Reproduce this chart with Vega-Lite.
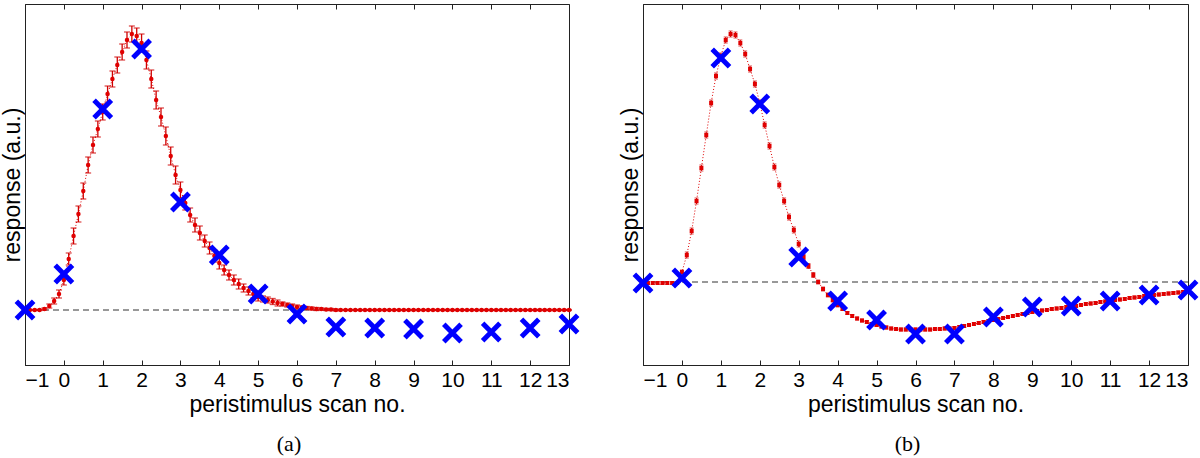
{
"$schema": "https://vega.github.io/schema/vega-lite/v6.json",
"padding": {"left": 0, "top": 3, "right": 2, "bottom": 0},
"background": "white",
"spacing": 29,
"config": {
  "view": {"stroke": "#222", "strokeWidth": 1},
  "axis": {"labelFont": "Liberation Sans", "titleFont": "Liberation Sans", "labelFontSize": 21, "titleFontSize": 23, "titleFontWeight": "normal", "labelColor": "#000", "titleColor": "#000", "domainColor": "#222", "tickColor": "#222", "grid": false, "labelOverlap": false}
},
"datasets": {
  "a": [{"x":-1,"v":55,"e":0.5},{"x":-0.875,"v":55,"e":0.5},{"x":-0.75,"v":55,"e":0.5},{"x":-0.625,"v":55,"e":0.5},{"x":-0.5,"v":56,"e":1},{"x":-0.375,"v":59,"e":2},{"x":-0.25,"v":64,"e":3},{"x":-0.125,"v":71,"e":4},{"x":0,"v":85,"e":5},{"x":0.125,"v":106,"e":6},{"x":0.25,"v":129,"e":8},{"x":0.375,"v":151,"e":8},{"x":0.5,"v":174,"e":8},{"x":0.625,"v":200,"e":8},{"x":0.75,"v":220,"e":8},{"x":0.875,"v":236,"e":8},{"x":1,"v":253,"e":8},{"x":1.125,"v":271,"e":8},{"x":1.25,"v":286,"e":8},{"x":1.375,"v":300,"e":8},{"x":1.5,"v":313,"e":8},{"x":1.625,"v":325,"e":8},{"x":1.75,"v":331,"e":8},{"x":1.875,"v":329,"e":8},{"x":2,"v":322,"e":9},{"x":2.125,"v":305,"e":9},{"x":2.25,"v":286,"e":9},{"x":2.375,"v":265,"e":9},{"x":2.5,"v":248,"e":9},{"x":2.625,"v":229,"e":9},{"x":2.75,"v":209,"e":9},{"x":2.875,"v":190,"e":9},{"x":3,"v":175,"e":8},{"x":3.125,"v":162,"e":7},{"x":3.25,"v":150,"e":7},{"x":3.375,"v":140,"e":7},{"x":3.5,"v":132,"e":7},{"x":3.625,"v":124,"e":6},{"x":3.75,"v":117,"e":6},{"x":3.875,"v":109,"e":6},{"x":4,"v":102,"e":6},{"x":4.125,"v":95,"e":5},{"x":4.25,"v":90,"e":5},{"x":4.375,"v":85,"e":5},{"x":4.5,"v":81,"e":5},{"x":4.625,"v":77,"e":4},{"x":4.75,"v":74,"e":4},{"x":4.875,"v":71,"e":4},{"x":5,"v":68,"e":4},{"x":5.125,"v":66,"e":3},{"x":5.25,"v":65,"e":3},{"x":5.375,"v":63.5,"e":3},{"x":5.5,"v":62,"e":3},{"x":5.625,"v":61,"e":2},{"x":5.75,"v":60,"e":2},{"x":5.875,"v":59,"e":2},{"x":6,"v":58,"e":2},{"x":6.125,"v":57.5,"e":1.5},{"x":6.25,"v":57,"e":1.5},{"x":6.375,"v":56.5,"e":1.5},{"x":6.5,"v":56,"e":1.5},{"x":6.625,"v":56,"e":1},{"x":6.75,"v":55.5,"e":1},{"x":6.875,"v":55.5,"e":1},{"x":7,"v":55,"e":1},
    {"x":7.125,"v":55,"e":0.5},{"x":7.25,"v":55,"e":0.5},{"x":7.375,"v":55,"e":0.5},{"x":7.5,"v":55,"e":0.5},{"x":7.625,"v":55,"e":0.5},{"x":7.75,"v":55,"e":0.5},{"x":7.875,"v":55,"e":0.5},{"x":8,"v":55,"e":0.5},
    {"x":8.125,"v":55,"e":0.5},{"x":8.25,"v":55,"e":0.5},{"x":8.375,"v":55,"e":0.5},{"x":8.5,"v":55,"e":0.5},{"x":8.625,"v":55,"e":0.5},{"x":8.75,"v":55,"e":0.5},{"x":8.875,"v":55,"e":0.5},{"x":9,"v":55,"e":0.5},
    {"x":9.125,"v":55,"e":0.5},{"x":9.25,"v":55,"e":0.5},{"x":9.375,"v":55,"e":0.5},{"x":9.5,"v":55,"e":0.5},{"x":9.625,"v":55,"e":0.5},{"x":9.75,"v":55,"e":0.5},{"x":9.875,"v":55,"e":0.5},{"x":10,"v":55,"e":0.5},
    {"x":10.125,"v":55,"e":0.5},{"x":10.25,"v":55,"e":0.5},{"x":10.375,"v":55,"e":0.5},{"x":10.5,"v":55,"e":0.5},{"x":10.625,"v":55,"e":0.5},{"x":10.75,"v":55,"e":0.5},{"x":10.875,"v":55,"e":0.5},{"x":11,"v":55,"e":0.5},
    {"x":11.125,"v":55,"e":0.5},{"x":11.25,"v":55,"e":0.5},{"x":11.375,"v":55,"e":0.5},{"x":11.5,"v":55,"e":0.5},{"x":11.625,"v":55,"e":0.5},{"x":11.75,"v":55,"e":0.5},{"x":11.875,"v":55,"e":0.5},{"x":12,"v":55,"e":0.5},
    {"x":12.125,"v":55,"e":0.5},{"x":12.25,"v":55,"e":0.5},{"x":12.375,"v":55,"e":0.5},{"x":12.5,"v":55,"e":0.5},{"x":12.625,"v":55,"e":0.5},{"x":12.75,"v":55,"e":0.5},{"x":12.875,"v":55,"e":0.5},{"x":13,"v":55,"e":0.5}],
  "xa": [{"x":-1,"v":55},{"x":0,"v":91},{"x":1,"v":256},{"x":2,"v":316},{"x":3,"v":163},{"x":4,"v":110},{"x":5,"v":71},{"x":6,"v":51},{"x":7,"v":38},{"x":8,"v":37},{"x":9,"v":36},{"x":10,"v":32},{"x":11,"v":33},{"x":12,"v":37},{"x":13,"v":41}],
  "ba": [{"v":55}],
  "b": [{"x":-1,"v":82,"e":1.5},{"x":-0.875,"v":82,"e":1.5},{"x":-0.75,"v":82,"e":1.5},{"x":-0.625,"v":82,"e":1.5},{"x":-0.5,"v":82,"e":1.5},{"x":-0.375,"v":82,"e":1.5},{"x":-0.25,"v":82,"e":1.5},{"x":-0.125,"v":82,"e":1.5},
    {"x":0,"v":93,"e":2},{"x":0.125,"v":110,"e":3},{"x":0.25,"v":134,"e":3},{"x":0.375,"v":164,"e":3},{"x":0.5,"v":197,"e":3},{"x":0.625,"v":230,"e":3},{"x":0.75,"v":262,"e":3},{"x":0.875,"v":289,"e":3},{"x":1,"v":309,"e":3},{"x":1.125,"v":325,"e":3},{"x":1.25,"v":331,"e":3},{"x":1.375,"v":330,"e":3},{"x":1.5,"v":322,"e":3},{"x":1.625,"v":311,"e":3},{"x":1.75,"v":296,"e":3},{"x":1.875,"v":281,"e":3},{"x":2,"v":262,"e":3},{"x":2.125,"v":240,"e":3},{"x":2.25,"v":219,"e":3},{"x":2.375,"v":198,"e":3},{"x":2.5,"v":180,"e":3},{"x":2.625,"v":164,"e":3},{"x":2.75,"v":148,"e":3},{"x":2.875,"v":135,"e":3},{"x":3,"v":121,"e":3},{"x":3.125,"v":108,"e":2.5},{"x":3.25,"v":99,"e":2.5},{"x":3.375,"v":90,"e":2.5},{"x":3.5,"v":83,"e":2},{"x":3.625,"v":76,"e":2},{"x":3.75,"v":70,"e":2},{"x":3.875,"v":65,"e":2},{"x":4,"v":60,"e":2},
    {"x":4.125,"v":56,"e":1.5},{"x":4.25,"v":52,"e":1.5},{"x":4.375,"v":49,"e":1.5},{"x":4.5,"v":46.5,"e":1.5},{"x":4.625,"v":44.5,"e":1.5},{"x":4.75,"v":43,"e":1.5},{"x":4.875,"v":41,"e":1.5},{"x":5,"v":40,"e":1.5},
    {"x":5.125,"v":38.5,"e":1.5},{"x":5.25,"v":37.5,"e":1.5},{"x":5.375,"v":36.5,"e":1.5},{"x":5.5,"v":36,"e":1.5},{"x":5.625,"v":35.5,"e":1.5},{"x":5.75,"v":35.5,"e":1.5},{"x":5.875,"v":35.5,"e":1.5},{"x":6,"v":35.5,"e":1.5},
    {"x":6.125,"v":35.5,"e":1.5},{"x":6.25,"v":35.5,"e":1.5},{"x":6.375,"v":35.5,"e":1.5},{"x":6.5,"v":36,"e":1.5},{"x":6.625,"v":36,"e":1.5},{"x":6.75,"v":36.5,"e":1.5},{"x":6.875,"v":36.5,"e":1.5},{"x":7,"v":37,"e":1.5},
    {"x":7.125,"v":38,"e":1.5},{"x":7.25,"v":39,"e":1.5},{"x":7.375,"v":40,"e":1.5},{"x":7.5,"v":41,"e":1.5},{"x":7.625,"v":42,"e":1.5},{"x":7.75,"v":43,"e":1.5},{"x":7.875,"v":44,"e":1.5},{"x":8,"v":45,"e":1.5},
    {"x":8.125,"v":46,"e":1.5},{"x":8.25,"v":47,"e":1.5},{"x":8.375,"v":48,"e":1.5},{"x":8.5,"v":49,"e":1.5},{"x":8.625,"v":50,"e":1.5},{"x":8.75,"v":51,"e":1.5},{"x":8.875,"v":52,"e":1.5},{"x":9,"v":53,"e":1.5},
    {"x":9.125,"v":54,"e":1.5},{"x":9.25,"v":54.5,"e":1.5},{"x":9.375,"v":55,"e":1.5},{"x":9.5,"v":56,"e":1.5},{"x":9.625,"v":56.5,"e":1.5},{"x":9.75,"v":57,"e":1.5},{"x":9.875,"v":58,"e":1.5},{"x":10,"v":58.5,"e":1.5},
    {"x":10.125,"v":59,"e":1.5},{"x":10.25,"v":60,"e":1.5},{"x":10.375,"v":61,"e":1.5},{"x":10.5,"v":61.5,"e":1.5},{"x":10.625,"v":62,"e":1.5},{"x":10.75,"v":63,"e":1.5},{"x":10.875,"v":63.5,"e":1.5},{"x":11,"v":64,"e":1.5},
    {"x":11.125,"v":65,"e":1.5},{"x":11.25,"v":65.5,"e":1.5},{"x":11.375,"v":66,"e":1.5},{"x":11.5,"v":67,"e":1.5},{"x":11.625,"v":67.5,"e":1.5},{"x":11.75,"v":68,"e":1.5},{"x":11.875,"v":69,"e":1.5},{"x":12,"v":69.5,"e":1.5},
    {"x":12.125,"v":70,"e":1.5},{"x":12.25,"v":70.5,"e":1.5},{"x":12.375,"v":71,"e":1.5},{"x":12.5,"v":71.5,"e":1.5},{"x":12.625,"v":72,"e":1.5},{"x":12.75,"v":72.5,"e":1.5},{"x":12.875,"v":73,"e":1.5},{"x":13,"v":73.5,"e":1.5}],
  "xb": [{"x":-1,"v":82},{"x":0,"v":87},{"x":1,"v":307},{"x":2,"v":261},{"x":3,"v":108},{"x":4,"v":64},{"x":5,"v":45},{"x":6,"v":31},{"x":7,"v":31},{"x":8,"v":48},{"x":9,"v":58},{"x":10,"v":59},{"x":11,"v":64},{"x":12,"v":70},{"x":13,"v":75}],
  "bb": [{"v":83}]
},
"hconcat": [
 {
  "width": 544, "height": 361,
  "title": {"text": "(a)", "orient": "bottom", "font": "Liberation Serif", "fontSize": 22, "fontWeight": "normal", "color": "#000", "offset": 18, "dx": -8},
  "resolve": {"scale": {"x": "independent"}},
  "layer": [
   {"layer": [
     {"data": {"name": "ba"}, "mark": {"type": "rule", "color": "#333", "strokeDash": [6, 4], "strokeWidth": 1},
      "encoding": {"y": {"field": "v", "type": "quantitative", "scale": {"domain": [0, 361], "nice": false, "zero": false}, "axis": {"labels": false, "ticks": false, "title": "response (a.u.)", "titlePadding": 1}}}},
     {"data": {"name": "a"}, "mark": {"type": "line", "color": "#e00000", "strokeDash": [1, 2], "strokeWidth": 1},
      "encoding": {"x": {"field": "x", "type": "quantitative", "scale": {"domain": [-1, 13], "nice": false, "zero": false}, "axis": {"values": [-1,0,1,2,3,4,5,6,7,8,9,10,11,12,13], "title": "peristimulus scan no.", "tickSize": -5, "labelPadding": 9, "titlePadding": 3, "labelOverlap": false, "labelBound": false}},
                   "y": {"field": "v", "type": "quantitative", "scale": {"domain": [0, 361], "nice": false, "zero": false}, "axis": {"labels": false, "ticks": false, "title": "response (a.u.)", "titlePadding": 1}}}},
     {"data": {"name": "a"}, "mark": {"type": "errorbar", "ticks": true, "size": 6, "thickness": 1.3, "color": "#d00000"},
      "encoding": {"x": {"field": "x", "type": "quantitative", "axis": {"values": [-1,0,1,2,3,4,5,6,7,8,9,10,11,12,13], "title": "peristimulus scan no.", "tickSize": -5, "labelPadding": 9, "titlePadding": 3, "labelOverlap": false, "labelBound": false}},
                   "y": {"field": "v", "type": "quantitative", "title": "response (a.u.)"},
                   "yError": {"field": "e"}}},
     {"data": {"name": "a"}, "mark": {"type": "circle", "color": "#e00000", "size": 20, "opacity": 1},
      "encoding": {"x": {"field": "x", "type": "quantitative", "axis": {"values": [-1,0,1,2,3,4,5,6,7,8,9,10,11,12,13], "title": "peristimulus scan no.", "tickSize": -5, "labelPadding": 9, "titlePadding": 3, "labelOverlap": false, "labelBound": false}}, "y": {"field": "v", "type": "quantitative", "title": "response (a.u.)"}}}
   ]},
   {"data": {"name": "xa"}, "mark": {"type": "point", "shape": "M-1,-1L1,1M-1,1L1,-1", "filled": false, "stroke": "#0000ff", "strokeWidth": 5, "size": 300, "opacity": 1},
    "encoding": {"x": {"field": "x", "type": "quantitative", "scale": {"domain": [-1, 13], "nice": false, "zero": false}, "axis": {"orient": "top", "values": [-1,0,1,2,3,4,5,6,7,8,9,10,11,12,13], "labels": false, "domain": false, "tickSize": -5, "title": null}},
                 "y": {"field": "v", "type": "quantitative", "title": "response (a.u.)"}}}
  ]
 },
 {
  "width": 545, "height": 361,
  "title": {"text": "(b)", "orient": "bottom", "font": "Liberation Serif", "fontSize": 22, "fontWeight": "normal", "color": "#000", "offset": 18, "dx": -8},
  "resolve": {"scale": {"x": "independent"}},
  "layer": [
   {"layer": [
     {"data": {"name": "bb"}, "mark": {"type": "rule", "color": "#333", "strokeDash": [6, 4], "strokeWidth": 1},
      "encoding": {"y": {"field": "v", "type": "quantitative", "scale": {"domain": [0, 361], "nice": false, "zero": false}, "axis": {"labels": false, "ticks": false, "title": "response (a.u.)", "titlePadding": 1}}}},
     {"data": {"name": "b"}, "mark": {"type": "line", "color": "#e00000", "strokeDash": [1, 2], "strokeWidth": 1},
      "encoding": {"x": {"field": "x", "type": "quantitative", "scale": {"domain": [-1, 13], "nice": false, "zero": false}, "axis": {"values": [-1,0,1,2,3,4,5,6,7,8,9,10,11,12,13], "title": "peristimulus scan no.", "tickSize": -5, "labelPadding": 9, "titlePadding": 3, "labelOverlap": false, "labelBound": false}},
                   "y": {"field": "v", "type": "quantitative", "scale": {"domain": [0, 361], "nice": false, "zero": false}, "axis": {"labels": false, "ticks": false, "title": "response (a.u.)", "titlePadding": 1}}}},
     {"data": {"name": "b"}, "mark": {"type": "errorbar", "ticks": true, "size": 4, "thickness": 1, "color": "#d00000"},
      "encoding": {"x": {"field": "x", "type": "quantitative", "axis": {"values": [-1,0,1,2,3,4,5,6,7,8,9,10,11,12,13], "title": "peristimulus scan no.", "tickSize": -5, "labelPadding": 9, "titlePadding": 3, "labelOverlap": false, "labelBound": false}},
                   "y": {"field": "v", "type": "quantitative", "title": "response (a.u.)"},
                   "yError": {"field": "e"}}},
     {"data": {"name": "b"}, "mark": {"type": "square", "color": "#e00000", "size": 16, "opacity": 1},
      "encoding": {"x": {"field": "x", "type": "quantitative", "axis": {"values": [-1,0,1,2,3,4,5,6,7,8,9,10,11,12,13], "title": "peristimulus scan no.", "tickSize": -5, "labelPadding": 9, "titlePadding": 3, "labelOverlap": false, "labelBound": false}}, "y": {"field": "v", "type": "quantitative", "title": "response (a.u.)"}}}
   ]},
   {"data": {"name": "xb"}, "mark": {"type": "point", "shape": "M-1,-1L1,1M-1,1L1,-1", "filled": false, "stroke": "#0000ff", "strokeWidth": 5, "size": 300, "opacity": 1},
    "encoding": {"x": {"field": "x", "type": "quantitative", "scale": {"domain": [-1, 13], "nice": false, "zero": false}, "axis": {"orient": "top", "values": [-1,0,1,2,3,4,5,6,7,8,9,10,11,12,13], "labels": false, "domain": false, "tickSize": -5, "title": null}},
                 "y": {"field": "v", "type": "quantitative", "title": "response (a.u.)"}}}
  ]
 }
]
}
